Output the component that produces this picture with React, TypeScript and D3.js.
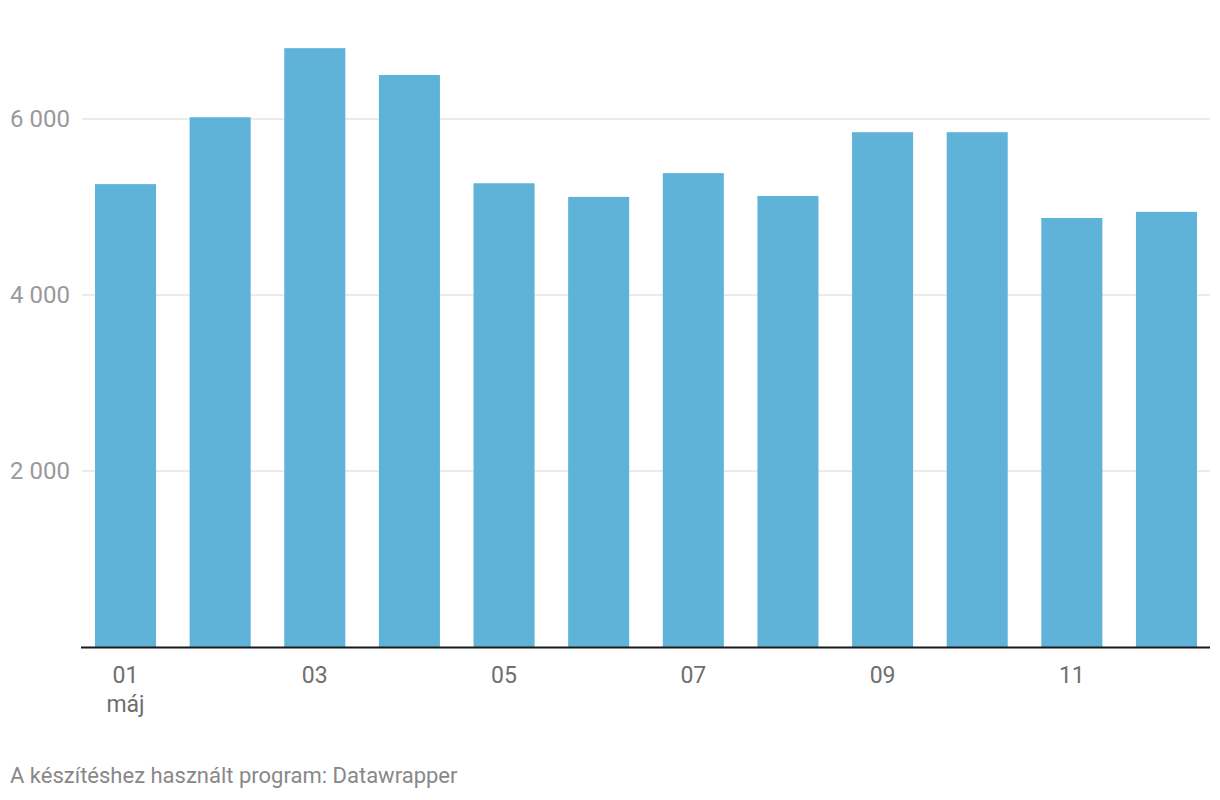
import React, { useEffect, useRef } from 'react';
import * as d3 from 'd3';

const days = ['01', '02', '03', '04', '05', '06', '07', '08', '09', '10', '11', '12'];
const counts = [5260, 6020, 6805, 6500, 5270, 5115, 5385, 5125, 5850, 5850, 4875, 4945];
const yTicks = [2000, 4000, 6000];
const labelledDays = ['01', '03', '05', '07', '09', '11'];

const App: React.FC = () => {
  const svgRef = useRef<SVGSVGElement | null>(null);

  useEffect(() => {
    if (!svgRef.current) return;
    const width = 1220;
    const height = 800;
    const svg = d3.select(svgRef.current).attr('width', width).attr('height', height);
    svg.selectAll('*').remove();

    const font = 'Roboto, sans-serif';

    // scales
    const x = d3.scaleBand<string>()
      .domain(days)
      .range([95, 1197])
      .paddingInner(0.355)
      .paddingOuter(0);

    const y = d3.scaleLinear()
      .domain([0, 6000])
      .range([647, 119]);

    // gridlines
    svg.append('g')
      .selectAll('line')
      .data(yTicks)
      .enter().append('line')
      .attr('x1', 82)
      .attr('x2', 1210)
      .attr('y1', d => y(d))
      .attr('y2', d => y(d))
      .attr('stroke', '#e5e5e5')
      .attr('stroke-width', 1.5);

    // y labels
    svg.append('g')
      .selectAll('text')
      .data(yTicks)
      .enter().append('text')
      .attr('x', 70)
      .attr('y', d => y(d))
      .attr('dy', '0.35em')
      .attr('text-anchor', 'end')
      .style('font-family', font)
      .style('font-size', '24px')
      .style('fill', '#9a9a9a')
      .text(d => d3.format(',')(d).replace(',', ' '));

    // bars
    svg.append('g')
      .selectAll('rect')
      .data(days)
      .enter().append('rect')
      .attr('x', d => x(d)!)
      .attr('width', x.bandwidth())
      .attr('y', (d, i) => y(counts[i]))
      .attr('height', (d, i) => y(0) - y(counts[i]))
      .attr('fill', '#5fb3d8');

    // baseline
    svg.append('line')
      .attr('x1', 81)
      .attr('x2', 1210)
      .attr('y1', y(0) + 0.5)
      .attr('y2', y(0) + 0.5)
      .attr('stroke', '#1a1a1a')
      .attr('stroke-width', 2);

    // x labels
    svg.append('g')
      .selectAll('text')
      .data(labelledDays)
      .enter().append('text')
      .attr('x', d => x(d)! + x.bandwidth() / 2)
      .attr('y', 683)
      .attr('text-anchor', 'middle')
      .style('font-family', font)
      .style('font-size', '23px')
      .style('fill', '#6f6f6f')
      .text(d => d);

    svg.append('text')
      .attr('x', x('01')! + x.bandwidth() / 2)
      .attr('y', 712)
      .attr('text-anchor', 'middle')
      .style('font-family', font)
      .style('font-size', '23px')
      .style('fill', '#6f6f6f')
      .text('máj');

    // footer
    svg.append('text')
      .attr('x', 10)
      .attr('y', 783)
      .style('font-family', font)
      .style('font-size', '22px')
      .style('fill', '#888888')
      .text('A készítéshez használt program: Datawrapper');
  }, []);

  return (
    <div style={{ position: 'absolute', top: 0, left: 0, width: 1220, height: 800, background: '#fff' }}>
      <svg ref={svgRef} style={{ display: 'block' }} />
    </div>
  );
};

export default App;
